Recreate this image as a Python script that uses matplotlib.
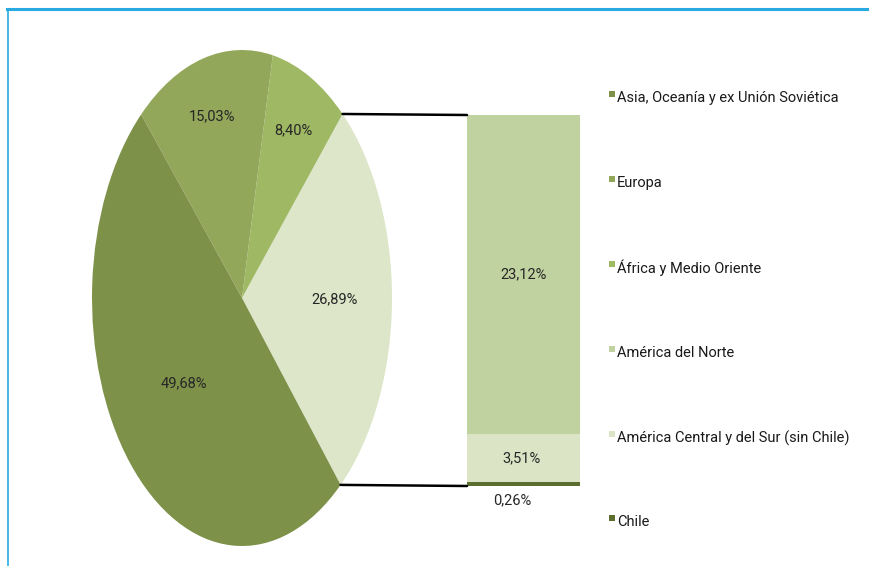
import matplotlib.pyplot as plt
from matplotlib.patches import ConnectionPatch, Rectangle
from matplotlib.lines import Line2D
import numpy as np

# data
pie_labels = ["América", "África y Medio Oriente", "Europa", "Asia, Oceanía y ex Unión Soviética"]
pie_values = [26.89, 8.40, 15.03, 49.68]
pie_colors = ["#dde6c8", "#9fb864", "#93a75a", "#7d9149"]

bar_labels = ["Chile", "América Central y del Sur (sin Chile)", "América del Norte"]
bar_values = [0.26, 3.51, 23.12]
bar_colors = ["#5b6e2f", "#dbe5c5", "#c0d29f"]

legend_labels = ["Asia, Oceanía y ex Unión Soviética", "Europa", "África y Medio Oriente",
                 "América del Norte", "América Central y del Sur (sin Chile)", "Chile"]
legend_colors = ["#7d9149", "#93a75a", "#9fb864", "#c0d29f", "#dbe5c5", "#5b6e2f"]

plt.rcParams['font.family'] = ['Roboto', 'DejaVu Sans']

W, H = 870, 566
fig = plt.figure(figsize=(W / 100, H / 100), dpi=100)

def box(x0, y0, x1, y1):
    return [x0 / W, 1 - y1 / H, (x1 - x0) / W, (y1 - y0) / H]

# pie (stretched to an ellipse)
ax = fig.add_axes(box(92, 50, 392, 546))
start = -48.9
wedges, texts = ax.pie(pie_values, colors=pie_colors, startangle=start, counterclock=True,
                       wedgeprops=dict(linewidth=0))
ax.set_aspect('auto')
ax.set_xlim(-1, 1)
ax.set_ylim(-1, 1)
ax.axis("off")

# label radius per slice
ang = start
for v, r_pos in zip(pie_values, [0.62, 0.76, 0.76, 0.52]):
    mid = np.deg2rad(ang + v * 3.6 / 2)
    ang += v * 3.6
    txt = ("%.2f%%" % v).replace(".", ",")
    ax.text(r_pos * np.cos(mid), r_pos * np.sin(mid), txt, ha="center", va="center",
            fontsize=10.5, color="#262626")

# bar of pie
bx = fig.add_axes(box(467, 115, 580, 486))
bottom = 0
for v, c in zip(bar_values, bar_colors):
    bx.bar(0, v, bottom=bottom, width=1, color=c, linewidth=0)
    bottom += v
bx.set_xlim(-0.5, 0.5)
bx.set_ylim(0, sum(bar_values))
bx.axis("off")
bx.text(-0.02, bar_values[0] + bar_values[1] / 2, "3,51%", ha="center", va="center",
        fontsize=10.5, color="#262626")
bx.text(0, bar_values[0] + bar_values[1] + bar_values[2] / 2, "23,12%", ha="center", va="center",
        fontsize=10.5, color="#262626")
bx.text(-0.1, -0.5, "0,26%", ha="center", va="top", fontsize=10.5, color="#262626")

# connector lines
total = sum(bar_values)
a1 = np.deg2rad(start + pie_values[0] * 3.6)
a0 = np.deg2rad(start)
for a, y in [(a1, total), (a0, 0)]:
    con = ConnectionPatch(xyA=(np.cos(a), np.sin(a)), coordsA=ax.transData,
                          xyB=(-0.5, y), coordsB=bx.transData, color="black", linewidth=1.8)
    fig.add_artist(con)

# legend
ys = [98, 183, 268, 353, 438, 522]
for lab, c, y in zip(legend_labels, legend_colors, ys):
    fig.patches.append(Rectangle((609 / W, 1 - (y - 1) / H), 6 / W, 6 / H,
                                 transform=fig.transFigure, color=c, linewidth=0))
    fig.text(617 / W, 1 - y / H, lab, ha="left", va="center", fontsize=10.5, color="#1a1a1a")

# frame lines
fig.add_artist(Line2D([7 / W, 1], [1 - 8.5 / H, 1 - 8.5 / H], transform=fig.transFigure,
                      color="#27aae1", linewidth=2.2))
fig.add_artist(Line2D([8 / W, 8 / W], [0, 1 - 8.5 / H], transform=fig.transFigure,
                      color="#27aae1", linewidth=1.2))

fig.savefig("out.png", dpi=100)
